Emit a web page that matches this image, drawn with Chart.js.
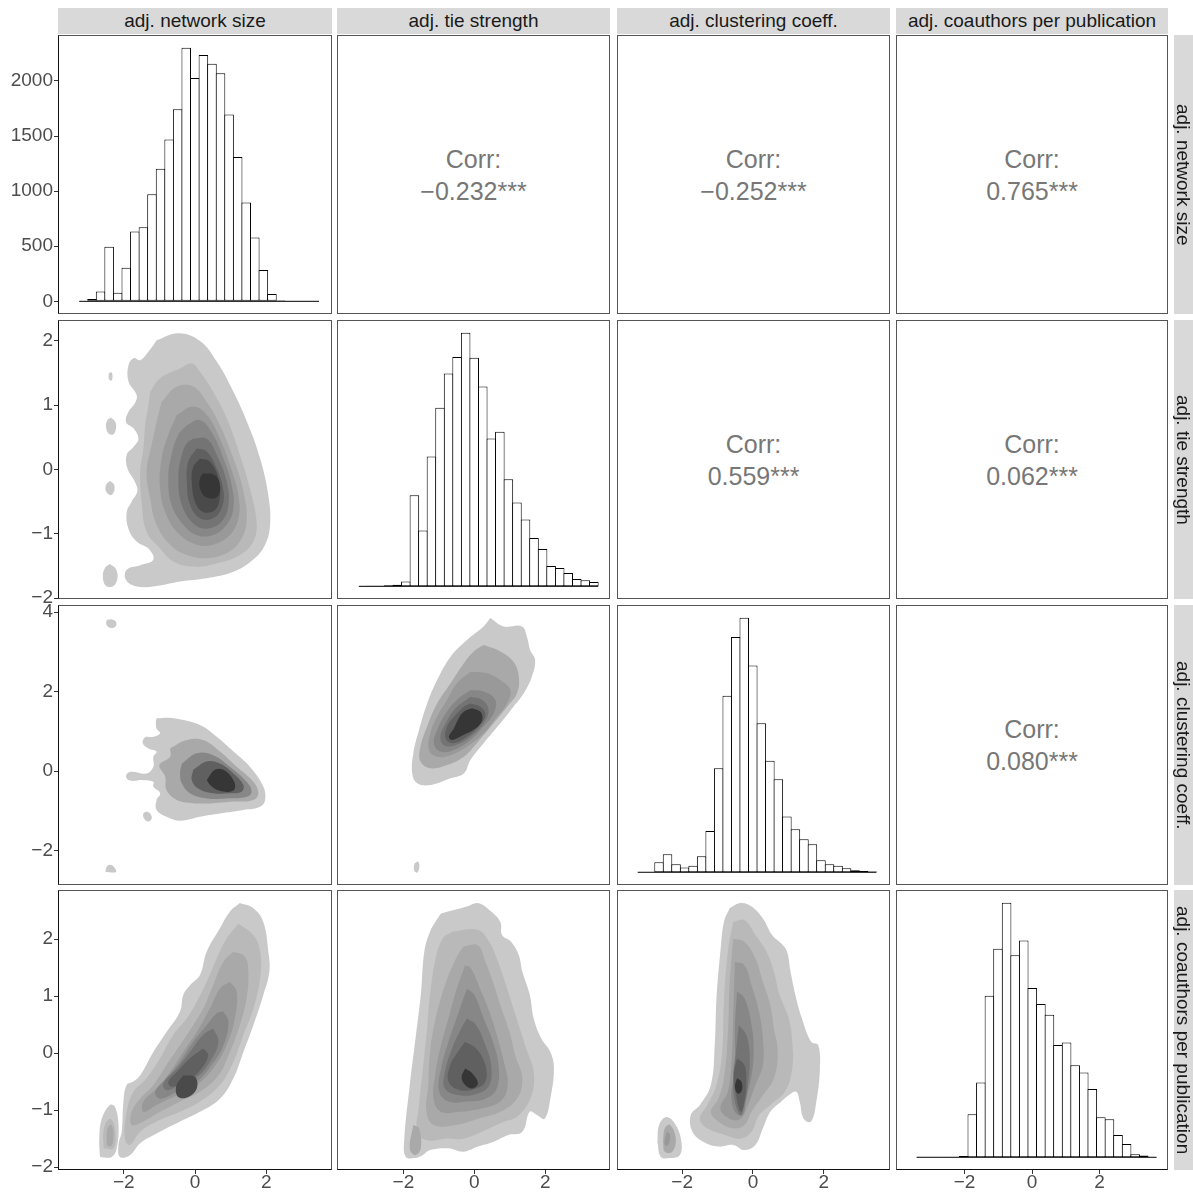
<!DOCTYPE html>
<html><head><meta charset="utf-8">
<script src="https://cdn.jsdelivr.net/npm/chart.js@4.4.1/dist/chart.umd.min.js"></script>
<style>
html,body{margin:0;padding:0;background:#fff;overflow:hidden;width:1193px;height:1192px;}
#wrap{position:relative;width:1193px;height:1192px;font-family:"Liberation Sans",Arial,Helvetica,sans-serif;overflow:hidden;}
canvas{position:absolute;}
.frame{position:absolute;box-sizing:border-box;border:1px solid #555;pointer-events:none;}
.strip{position:absolute;background:#d9d9d9;color:#1a1a1a;font-size:19px;display:flex;align-items:center;justify-content:center;white-space:nowrap;}
.rstrip{position:absolute;background:#d9d9d9;}
.rtext{position:absolute;top:0;left:0;width:19px;height:100%;writing-mode:vertical-rl;text-align:center;line-height:19px;font-size:19px;color:#1a1a1a;white-space:nowrap;}
.corr{position:absolute;display:flex;flex-direction:column;align-items:center;justify-content:center;color:#777;font-size:25px;line-height:32px;}
</style></head><body><div id="wrap"></div>
<script>
// ---------- labels ----------
const variableNames = ["adj. network size","adj. tie strength","adj. clustering coeff.","adj. coauthors per publication"];
const corrRow1 = ["\u22120.232***","\u22120.252***","0.765***"];
const corrRow2 = ["0.559***","0.062***"];
const corrRow3 = ["0.080***"];

// ---------- tick labels ----------
const xTicks = [-2, 0, 2];
const countTicks = [0, 500, 1000, 1500, 2000];
const yTicksTie = [-2, -1, 0, 1, 2];
const yTicksClust = [-2, 0, 2, 4];
const yTicksCoauth = [-2, -1, 0, 1, 2];

// ---------- histogram bins (centres) and counts ----------
const binCenters = [-3.135,-2.894,-2.653,-2.413,-2.172,-1.931,-1.690,-1.450,-1.209,-0.968,-0.727,-0.487,-0.246,-0.005,0.236,0.477,0.717,0.958,1.199,1.440,1.680,1.921,2.162,2.403,2.643,2.884,3.125,3.366];
const binCentersCoauth = [-3.293,-3.039,-2.785,-2.531,-2.277,-2.023,-1.769,-1.515,-1.261,-1.007,-0.753,-0.499,-0.245,0.009,0.263,0.517,0.771,1.025,1.279,1.533,1.787,2.041,2.295,2.549,2.803,3.057,3.311,3.565];
const binSpan = [-3.255, 3.486];
const binSpanCoauth = [-3.420, 3.692];
const countsSize = [5,20,90,495,78,305,633,673,971,1204,1469,1744,2302,2027,2235,2157,2069,1695,1309,896,579,284,66,9,0,0,0,0];
const countsTie = [3,7,7,10,17,50,922,565,1315,1806,2153,2321,2567,2314,2022,1497,1564,1083,848,676,488,377,205,185,135,74,61,44];
const countsClust = [0,0,143,258,115,67,95,229,592,1489,2524,3364,3641,2959,2133,1594,1331,797,616,472,401,172,115,95,57,29,19,10];
const countsCoauth = [0,0,0,0,4,14,453,786,1698,2190,2674,2123,2277,1779,1611,1498,1179,1207,968,891,716,421,400,235,140,32,18,4];

// ---------- 2-D density contour bands: [level, polygon in data units] ----------
const densSizeTie = [
 [0, [[-1.08,2.01],[-0.47,2.12],[0.14,2.00],[0.61,1.68],[1.08,1.21],[1.50,0.69],[1.83,0.17],[2.06,-0.40],[2.11,-0.86],[1.97,-1.17],[1.64,-1.40],[1.08,-1.59],[0.33,-1.69],[-0.42,-1.74],[-1.08,-1.81],[-1.64,-1.82],[-1.94,-1.72],[-1.92,-1.56],[-1.54,-1.49],[-1.17,-1.40],[-1.31,-1.23],[-1.64,-1.12],[-1.87,-0.92],[-1.92,-0.66],[-1.78,-0.50],[-1.62,-0.34],[-1.69,-0.19],[-1.90,0.02],[-1.92,0.23],[-1.73,0.35],[-1.59,0.48],[-1.73,0.64],[-1.94,0.74],[-1.87,0.90],[-1.69,1.03],[-1.64,1.16],[-1.87,1.37],[-1.87,1.62],[-1.73,1.73],[-1.54,1.70],[-1.31,1.83]]],
 [0, [[-2.42,1.50],[-2.34,1.51],[-2.32,1.42],[-2.36,1.38],[-2.42,1.41]]],
 [0, [[-2.36,0.81],[-2.24,0.74],[-2.22,0.64],[-2.29,0.55],[-2.43,0.56],[-2.50,0.67],[-2.46,0.77]]],
 [0, [[-2.39,-0.18],[-2.28,-0.23],[-2.27,-0.33],[-2.37,-0.40],[-2.50,-0.34],[-2.50,-0.24]]],
 [0, [[-2.39,-1.47],[-2.22,-1.55],[-2.18,-1.69],[-2.29,-1.81],[-2.50,-1.81],[-2.59,-1.67],[-2.53,-1.53]]],
 [1, [[-1.26,1.21],[-0.98,1.42],[-0.42,1.57],[-0.09,1.65],[0.14,1.52],[0.51,1.21],[0.89,0.80],[1.26,0.23],[1.54,-0.29],[1.73,-0.81],[1.64,-1.12],[1.26,-1.33],[0.61,-1.46],[-0.05,-1.51],[-0.61,-1.43],[-0.98,-1.23],[-1.36,-0.97],[-1.50,-0.50],[-1.54,-0.03],[-1.45,0.33],[-1.40,0.69],[-1.31,1.00]]],
 [2, [[-0.94,1.05],[-0.51,1.29],[-0.05,1.29],[0.33,1.05],[0.70,0.69],[1.08,0.17],[1.36,-0.34],[1.45,-0.81],[1.26,-1.12],[0.89,-1.30],[0.33,-1.38],[-0.23,-1.33],[-0.70,-1.17],[-1.08,-0.86],[-1.26,-0.45],[-1.36,-0.03],[-1.22,0.38],[-1.08,0.74]]],
 [3, [[-0.51,0.85],[-0.05,0.98],[0.33,0.85],[0.70,0.48],[0.98,0.07],[1.22,-0.40],[1.22,-0.76],[0.98,-1.02],[0.51,-1.17],[0.05,-1.17],[-0.42,-1.02],[-0.80,-0.71],[-0.98,-0.29],[-0.94,0.17],[-0.75,0.54]]],
 [4, [[-0.23,0.69],[0.14,0.77],[0.51,0.54],[0.80,0.17],[1.03,-0.24],[1.08,-0.60],[0.89,-0.86],[0.51,-1.02],[0.05,-1.02],[-0.33,-0.86],[-0.66,-0.55],[-0.75,-0.14],[-0.66,0.23],[-0.47,0.54]]],
 [5, [[-0.05,0.48],[0.33,0.48],[0.61,0.23],[0.89,-0.19],[0.94,-0.55],[0.75,-0.81],[0.33,-0.92],[-0.05,-0.84],[-0.37,-0.55],[-0.47,-0.14],[-0.37,0.23],[-0.23,0.41]]],
 [6, [[0.05,0.33],[0.33,0.28],[0.61,0.02],[0.80,-0.34],[0.75,-0.60],[0.51,-0.76],[0.14,-0.76],[-0.14,-0.55],[-0.23,-0.19],[-0.19,0.12]]],
 [7, [[0.14,0.17],[0.42,0.12],[0.66,-0.14],[0.70,-0.42],[0.56,-0.63],[0.23,-0.66],[0.00,-0.50],[-0.09,-0.19],[-0.05,0.04]]],
 [8, [[0.23,-0.06],[0.56,-0.09],[0.70,-0.24],[0.66,-0.40],[0.51,-0.45],[0.28,-0.42],[0.14,-0.29],[0.14,-0.14]]]
];
const densSizeClust = [
 [0, [[-1.08,1.33],[-0.61,1.33],[0.14,1.16],[0.61,0.86],[1.08,0.49],[1.54,0.11],[1.92,-0.39],[1.97,-0.73],[1.83,-0.90],[1.36,-0.98],[0.70,-1.07],[0.14,-1.15],[-0.42,-1.25],[-0.80,-1.15],[-1.08,-0.98],[-1.08,-0.73],[-0.98,-0.56],[-1.17,-0.39],[-1.17,-0.27],[-1.45,-0.23],[-1.83,-0.24],[-1.94,-0.13],[-1.81,-0.02],[-1.36,-0.06],[-1.17,0.11],[-1.17,0.36],[-1.08,0.49],[-1.31,0.57],[-1.47,0.70],[-1.40,0.85],[-1.17,0.86],[-0.98,0.95],[-1.08,1.07],[-1.10,1.24]]],
 [0, [[-2.36,3.82],[-2.23,3.77],[-2.22,3.65],[-2.36,3.60],[-2.48,3.67],[-2.48,3.79]]],
 [0, [[-1.36,-1.02],[-1.25,-1.08],[-1.22,-1.20],[-1.32,-1.27],[-1.44,-1.18],[-1.45,-1.07]]],
 [0, [[-2.52,-2.54],[-2.48,-2.41],[-2.39,-2.36],[-2.28,-2.41],[-2.22,-2.54]]],
 [2, [[-0.70,0.57],[-0.23,0.78],[0.23,0.78],[0.70,0.49],[1.17,0.11],[1.64,-0.27],[1.78,-0.56],[1.64,-0.73],[1.08,-0.77],[0.51,-0.81],[-0.05,-0.81],[-0.51,-0.73],[-0.80,-0.48],[-0.84,-0.14],[-1.00,0.15],[-0.70,0.36]]],
 [4, [[-0.37,0.19],[0.05,0.45],[0.51,0.40],[0.98,0.11],[1.45,-0.27],[1.59,-0.52],[1.45,-0.65],[0.89,-0.69],[0.33,-0.69],[-0.14,-0.56],[-0.37,-0.31],[-0.42,-0.06]]],
 [6, [[-0.05,0.03],[0.33,0.24],[0.70,0.19],[1.08,-0.06],[1.36,-0.35],[1.31,-0.52],[0.98,-0.56],[0.51,-0.56],[0.09,-0.44],[-0.09,-0.23]]],
 [8, [[0.33,-0.23],[0.56,0.03],[0.80,0.03],[1.08,-0.23],[1.12,-0.44],[0.98,-0.52],[0.70,-0.50],[0.47,-0.39]]]
];
const densTieClust = [
 [0, [[0.45,3.85],[0.82,3.64],[1.34,3.64],[1.48,3.38],[1.57,3.05],[1.71,2.80],[1.62,2.38],[1.39,1.96],[1.10,1.62],[0.73,1.20],[0.26,0.70],[-0.11,0.28],[-0.30,-0.06],[-0.67,-0.18],[-1.24,-0.35],[-1.61,-0.31],[-1.75,-0.06],[-1.72,0.45],[-1.56,1.03],[-1.33,1.70],[-1.05,2.29],[-0.67,2.88],[-0.21,3.30],[0.26,3.64]]],
 [0, [[-1.69,-2.33],[-1.59,-2.28],[-1.55,-2.41],[-1.61,-2.56],[-1.70,-2.49]]],
 [2, [[0.26,3.17],[0.73,3.01],[1.10,2.75],[1.25,2.38],[1.20,1.96],[0.92,1.62],[0.54,1.20],[0.07,0.70],[-0.30,0.36],[-0.77,0.15],[-1.24,0.07],[-1.52,0.24],[-1.52,0.61],[-1.33,1.12],[-1.05,1.70],[-0.67,2.21],[-0.30,2.71],[-0.02,3.01]]],
 [3, [[-0.11,2.50],[0.36,2.46],[0.73,2.29],[1.01,2.04],[0.92,1.70],[0.64,1.37],[0.26,0.95],[-0.21,0.61],[-0.67,0.40],[-1.05,0.36],[-1.28,0.53],[-1.24,0.95],[-1.05,1.37],[-0.77,1.79],[-0.49,2.21]]],
 [4, [[-0.11,2.04],[0.26,2.00],[0.59,1.79],[0.54,1.45],[0.26,1.12],[-0.11,0.78],[-0.58,0.53],[-0.96,0.49],[-1.14,0.70],[-1.05,1.03],[-0.81,1.45],[-0.49,1.79]]],
 [5, [[-0.11,1.87],[0.22,1.79],[0.40,1.54],[0.26,1.20],[-0.11,0.86],[-0.53,0.65],[-0.86,0.65],[-0.96,0.86],[-0.81,1.20],[-0.53,1.58]]],
 [6, [[-0.11,1.70],[0.17,1.62],[0.31,1.41],[0.12,1.12],[-0.21,0.86],[-0.58,0.70],[-0.81,0.82],[-0.77,1.12],[-0.53,1.41],[-0.30,1.62]]],
 [8, [[-0.07,1.58],[0.17,1.49],[0.22,1.28],[0.03,1.07],[-0.30,0.91],[-0.63,0.78],[-0.72,0.86],[-0.58,1.07],[-0.44,1.33],[-0.30,1.49]]]
];
const densSizeCoauth = [
 [0, [[1.26,2.63],[1.64,2.54],[1.92,2.30],[2.06,1.78],[2.09,1.43],[1.92,1.02],[1.64,0.49],[1.36,0.02],[1.08,-0.44],[0.70,-0.80],[0.14,-1.03],[-0.42,-1.20],[-1.08,-1.41],[-1.54,-1.58],[-1.83,-1.79],[-2.11,-1.82],[-2.15,-1.61],[-2.06,-1.38],[-2.01,-0.85],[-1.92,-0.56],[-1.73,-0.50],[-1.54,-0.39],[-1.17,0.02],[-0.80,0.37],[-0.42,0.73],[-0.33,1.02],[-0.14,1.19],[0.14,1.37],[0.33,1.78],[0.70,2.19],[0.98,2.48]]],
 [0, [[-2.67,-1.82],[-2.69,-1.50],[-2.62,-1.15],[-2.39,-0.91],[-2.25,-0.94],[-2.15,-1.26],[-2.20,-1.67],[-2.34,-1.82]]],
 [1, [[-2.57,-1.67],[-2.56,-1.32],[-2.39,-1.15],[-2.25,-1.32],[-2.29,-1.67]]],
 [2, [[-2.48,-1.61],[-2.46,-1.32],[-2.34,-1.26],[-2.29,-1.50],[-2.37,-1.64]]],
 [1, [[1.22,2.27],[1.64,2.07],[1.83,1.78],[1.83,1.31],[1.64,0.78],[1.36,0.32],[1.08,-0.15],[0.70,-0.56],[0.14,-0.85],[-0.42,-1.03],[-1.08,-1.20],[-1.54,-1.38],[-1.83,-1.61],[-1.97,-1.50],[-1.92,-1.03],[-1.73,-0.68],[-1.36,-0.44],[-0.98,-0.09],[-0.61,0.32],[-0.23,0.61],[0.05,0.90],[0.33,1.25],[0.61,1.66],[0.89,2.01]]],
 [2, [[1.08,1.78],[1.40,1.69],[1.50,1.43],[1.45,0.96],[1.26,0.49],[0.98,0.02],[0.66,-0.39],[0.14,-0.68],[-0.42,-0.85],[-0.98,-1.03],[-1.45,-1.20],[-1.78,-1.26],[-1.78,-1.03],[-1.54,-0.80],[-1.17,-0.56],[-0.80,-0.21],[-0.42,0.14],[-0.05,0.49],[0.23,0.78],[0.51,1.19],[0.80,1.60]]],
 [3, [[0.98,1.25],[1.17,1.08],[1.12,0.61],[0.89,0.14],[0.51,-0.27],[0.05,-0.56],[-0.51,-0.74],[-1.08,-0.91],[-1.45,-1.03],[-1.45,-0.85],[-1.08,-0.62],[-0.70,-0.33],[-0.33,0.02],[0.05,0.37],[0.42,0.78],[0.70,1.13]]],
 [4, [[0.80,0.73],[0.94,0.55],[0.80,0.14],[0.47,-0.21],[0.05,-0.50],[-0.51,-0.68],[-0.98,-0.80],[-1.12,-0.68],[-0.80,-0.44],[-0.42,-0.15],[-0.05,0.20],[0.33,0.49],[0.61,0.70]]],
 [5, [[0.51,0.43],[0.66,0.20],[0.42,-0.15],[0.05,-0.42],[-0.42,-0.56],[-0.80,-0.65],[-0.89,-0.53],[-0.51,-0.27],[-0.14,0.02],[0.23,0.32]]],
 [6, [[0.23,0.08],[0.37,-0.04],[0.14,-0.30],[-0.23,-0.50],[-0.66,-0.59],[-0.75,-0.50],[-0.51,-0.33],[-0.14,-0.09]]],
 [7, [[-0.33,-0.39],[0.00,-0.42],[0.05,-0.62],[-0.19,-0.77],[-0.47,-0.77],[-0.53,-0.59]]]
];
const densTieCoauth = [
 [0, [[-0.94,2.45],[-0.21,2.57],[0.10,2.63],[0.42,2.51],[0.73,2.30],[0.78,2.07],[1.04,1.95],[1.25,1.72],[1.35,1.43],[1.56,1.02],[1.67,0.61],[1.88,0.26],[2.14,0.02],[2.24,-0.27],[2.14,-0.80],[1.98,-1.15],[1.77,-1.09],[1.56,-1.03],[1.35,-1.38],[0.94,-1.44],[0.52,-1.56],[0.10,-1.64],[-0.31,-1.73],[-0.73,-1.67],[-1.25,-1.70],[-1.46,-1.79],[-1.67,-1.84],[-1.93,-1.82],[-1.98,-1.56],[-1.82,-0.56],[-1.67,0.20],[-1.51,1.02],[-1.41,1.78],[-1.25,2.13],[-1.04,2.36]]],
 [1, [[-0.63,2.13],[0.10,2.16],[0.42,1.95],[0.63,1.66],[0.83,1.31],[1.04,0.90],[1.25,0.49],[1.46,0.08],[1.67,-0.33],[1.61,-0.74],[1.25,-1.09],[0.73,-1.23],[0.21,-1.38],[-0.31,-1.50],[-0.83,-1.50],[-1.35,-1.53],[-1.61,-1.38],[-1.56,-0.91],[-1.46,-0.33],[-1.35,0.32],[-1.25,1.02],[-1.09,1.66],[-0.89,2.01]]],
 [2, [[-1.72,-1.26],[-1.56,-1.32],[-1.51,-1.67],[-1.67,-1.79],[-1.82,-1.67]]],
 [2, [[-0.31,1.87],[0.10,1.89],[0.31,1.60],[0.52,1.25],[0.73,0.84],[0.99,0.37],[1.15,-0.04],[1.35,-0.44],[1.20,-0.80],[0.73,-1.03],[0.10,-1.15],[-0.52,-1.26],[-1.15,-1.26],[-1.35,-1.03],[-1.30,-0.56],[-1.25,0.02],[-1.09,0.61],[-0.83,1.19],[-0.52,1.66]]],
 [3, [[-0.26,1.54],[-0.10,1.49],[0.16,1.13],[0.42,0.73],[0.63,0.32],[0.83,-0.15],[0.94,-0.56],[0.73,-0.85],[0.21,-0.97],[-0.42,-1.03],[-0.94,-1.03],[-1.15,-0.80],[-1.09,-0.33],[-0.94,0.14],[-0.73,0.61],[-0.52,1.08]]],
 [4, [[-0.21,1.13],[0.00,1.02],[0.26,0.61],[0.52,0.20],[0.68,-0.21],[0.63,-0.62],[0.31,-0.80],[-0.21,-0.85],[-0.73,-0.85],[-0.99,-0.68],[-0.94,-0.27],[-0.73,0.20],[-0.47,0.67]]],
 [5, [[-0.21,0.61],[0.05,0.49],[0.31,0.14],[0.47,-0.21],[0.42,-0.56],[0.10,-0.71],[-0.42,-0.74],[-0.83,-0.62],[-0.83,-0.33],[-0.63,0.08],[-0.42,0.37]]],
 [6, [[-0.26,0.20],[0.05,0.08],[0.31,-0.21],[0.31,-0.50],[0.05,-0.62],[-0.42,-0.65],[-0.73,-0.50],[-0.68,-0.21],[-0.47,0.02]]],
 [8, [[-0.26,-0.27],[-0.05,-0.36],[0.10,-0.53],[-0.05,-0.62],[-0.26,-0.56],[-0.36,-0.42]]]
];
const densClustCoauth = [
 [0, [[-0.66,2.54],[-0.35,2.63],[-0.04,2.57],[0.28,2.36],[0.54,2.07],[0.80,1.92],[0.96,1.78],[1.06,1.43],[1.22,0.96],[1.38,0.61],[1.64,0.20],[1.84,0.14],[1.89,-0.27],[1.79,-0.85],[1.64,-1.20],[1.43,-1.15],[1.32,-0.85],[1.22,-0.68],[1.01,-0.74],[0.80,-0.85],[0.49,-1.03],[0.28,-1.32],[0.07,-1.61],[-0.24,-1.70],[-0.56,-1.61],[-0.98,-1.64],[-1.39,-1.56],[-1.71,-1.38],[-1.76,-1.09],[-1.50,-0.91],[-1.19,-0.56],[-1.08,0.14],[-1.03,0.96],[-0.92,1.78],[-0.82,2.30]]],
 [0, [[-2.70,-1.56],[-2.65,-1.26],[-2.44,-1.12],[-2.18,-1.26],[-2.02,-1.56],[-2.07,-1.79],[-2.34,-1.84],[-2.60,-1.82]]],
 [2, [[-2.54,-1.56],[-2.49,-1.32],[-2.34,-1.26],[-2.18,-1.50],[-2.28,-1.73],[-2.49,-1.73]]],
 [3, [[-2.49,-1.50],[-2.42,-1.38],[-2.34,-1.44],[-2.39,-1.61],[-2.49,-1.61]]],
 [1, [[-0.56,2.30],[-0.24,2.33],[0.07,2.07],[0.38,1.78],[0.59,1.43],[0.75,1.02],[1.01,0.61],[1.11,0.20],[1.11,-0.27],[0.90,-0.68],[0.49,-0.91],[0.17,-1.09],[-0.04,-1.38],[-0.35,-1.50],[-0.77,-1.44],[-1.29,-1.32],[-1.50,-1.15],[-1.29,-0.91],[-1.03,-0.56],[-0.87,0.02],[-0.82,0.90],[-0.71,1.78]]],
 [2, [[-0.56,2.01],[-0.24,1.95],[0.07,1.66],[0.28,1.25],[0.49,0.84],[0.59,0.43],[0.70,0.02],[0.59,-0.44],[0.28,-0.74],[-0.04,-1.03],[-0.24,-1.26],[-0.56,-1.32],[-0.98,-1.20],[-1.19,-1.03],[-0.98,-0.80],[-0.82,-0.44],[-0.71,0.32],[-0.66,1.19]]],
 [3, [[-0.51,1.60],[-0.24,1.54],[-0.04,1.19],[0.17,0.73],[0.28,0.26],[0.28,-0.21],[0.07,-0.56],[-0.14,-0.91],[-0.35,-1.15],[-0.66,-1.15],[-0.92,-0.97],[-0.71,-0.68],[-0.61,-0.21],[-0.56,0.61]]],
 [4, [[-0.45,1.08],[-0.24,0.96],[-0.04,0.49],[0.02,0.02],[-0.04,-0.39],[-0.19,-0.80],[-0.30,-1.09],[-0.51,-1.03],[-0.61,-0.74],[-0.51,-0.27],[-0.51,0.43]]],
 [5, [[-0.40,0.49],[-0.19,0.32],[-0.09,-0.09],[-0.14,-0.56],[-0.24,-0.91],[-0.35,-1.09],[-0.51,-0.85],[-0.56,-0.44],[-0.48,0.02]]],
 [6, [[-0.45,-0.09],[-0.24,-0.21],[-0.19,-0.56],[-0.26,-0.91],[-0.35,-1.03],[-0.48,-0.74],[-0.54,-0.39]]],
 [8, [[-0.45,-0.44],[-0.33,-0.50],[-0.31,-0.65],[-0.43,-0.71],[-0.51,-0.59]]]
];
const grays = ['#C9C9C9','#B9B9B9','#A9A9A9','#999999','#878787','#747474','#606060','#4A4A4A','#363636'];

// ---------- layout ----------
const W = 1193, H = 1192;
const colLeft = [58, 337, 617, 896], colWidth = [274, 273, 273, 272];
const rowTop = [35, 320, 605, 890], rowHeight = [279, 279, 280, 280];
const xLimits = [[-3.85,3.85],[-3.87,3.82],[-3.84,3.87],[-4.03,4.03]];
const yLimits = [null, [-2.014,2.325], [-2.87,4.18], [-2.05,2.86]];
const yTicksByRow = [countTicks, yTicksTie, yTicksClust, yTicksCoauth];
const FONT = '"Liberation Sans", Arial, Helvetica, sans-serif';
const EXT = 12; // extra canvas room above/below for edge tick labels (left column)
const wrap = document.getElementById('wrap');

function fmt(v){ return v < 0 ? '\u2212' + Math.abs(v) : String(v); }

function scaleCfg(axis, show, lim, ticks, fitSize){
  return {
    type: 'linear', min: lim[0], max: lim[1], display: show, offset: false,
    grid: {display: show, offset: false, drawOnChartArea: false, drawTicks: true, tickLength: 4, color: '#333', lineWidth: 1},
    border: {display: false},
    ticks: {font: {family: FONT, size: 19}, color: '#4d4d4d', padding: axis === 'x' ? -3 : 1,
            autoSkip: false, maxRotation: 0, minRotation: 0, callback: (v) => fmt(v)},
    afterBuildTicks: s => { if (ticks) s.ticks = ticks.map(v => ({value: v})); },
    afterFit: s => {
      const size = show ? fitSize : 0;
      if (axis === 'y') s.width = size; else s.height = size;
      s.paddingTop = 0; s.paddingBottom = 0; s.paddingLeft = 0; s.paddingRight = 0;
    }
  };
}

function makeCanvas(r, c){
  const x = c === 0 ? 0 : colLeft[c];
  const w = colLeft[c] + colWidth[c] - x;
  const padTop = c === 0 ? EXT : 0;
  const padBottom = (c === 0 && r < 3) ? EXT : 0;
  const y = rowTop[r] - padTop;
  const h = (r === 3 ? H - rowTop[r] : rowHeight[r]) + padTop + padBottom;
  const cv = document.createElement('canvas');
  cv.width = w; cv.height = h;
  cv.style.left = x + 'px'; cv.style.top = y + 'px';
  cv.style.width = w + 'px'; cv.style.height = h + 'px';
  wrap.appendChild(cv);
  return {cv, yFit: colLeft[0], xFit: r === 3 ? H - rowTop[r] - rowHeight[r] : 0,
          pad: {top: padTop, bottom: padBottom, left: 0, right: 0}};
}

function opts(pad, scales){
  return {
    responsive: false, animation: false, devicePixelRatio: 1, events: [],
    layout: {padding: pad, autoPadding: false},
    plugins: {legend: {display: false}, tooltip: {enabled: false}, title: {display: false}},
    scales
  };
}

function histChart(r, c, centers, counts, span){
  const {cv, yFit, xFit, pad} = makeCanvas(r, c);
  const mx = Math.max(...counts);
  new Chart(cv, {
    type: 'bar',
    data: {datasets: [
      {type: 'line', data: [{x: span[0], y: 0}, {x: span[1], y: 0}], borderColor: '#000', borderWidth: 1, pointRadius: 0, order: 0},
      {type: 'bar', data: centers.map((x, i) => ({x, y: counts[i]})), backgroundColor: '#fff', borderColor: '#000',
       borderWidth: 1, borderSkipped: false, barPercentage: 1.12, categoryPercentage: 1, order: 1}
    ]},
    options: opts(pad, {
      x: scaleCfg('x', r === 3, xLimits[c], xTicks, xFit),
      y: scaleCfg('y', c === 0, [-0.05 * mx, 1.05 * mx], r === 0 ? countTicks : null, yFit)
    })
  });
}

function densChart(r, c, bands){
  const {cv, yFit, xFit, pad} = makeCanvas(r, c);
  const datasets = bands.map(([lvl, pts]) => {
    const data = pts.map(p => ({x: p[0], y: p[1]}));
    data.push({x: pts[0][0], y: pts[0][1]});
    return {data, fill: 'shape', backgroundColor: grays[lvl], borderColor: 'rgba(0,0,0,0)', borderWidth: 0,
            pointRadius: 0, tension: 0.4, order: 100 - lvl};
  });
  new Chart(cv, {
    type: 'line',
    data: {datasets},
    options: opts(pad, {
      x: scaleCfg('x', r === 3, xLimits[c], xTicks, xFit),
      y: scaleCfg('y', c === 0, yLimits[r], yTicksByRow[r], yFit)
    })
  });
}

function corrPanel(r, c, txt){
  const d = document.createElement('div');
  d.className = 'corr';
  d.style.left = colLeft[c] + 'px'; d.style.top = rowTop[r] + 'px';
  d.style.width = colWidth[c] + 'px'; d.style.height = rowHeight[r] + 'px';
  d.innerHTML = '<div>Corr:</div><div>' + txt + '</div>';
  wrap.appendChild(d);
}

// diagonal
histChart(0, 0, binCenters, countsSize, binSpan);
histChart(1, 1, binCenters, countsTie, binSpan);
histChart(2, 2, binCenters, countsClust, binSpan);
histChart(3, 3, binCentersCoauth, countsCoauth, binSpanCoauth);
// lower
densChart(1, 0, densSizeTie);
densChart(2, 0, densSizeClust);
densChart(2, 1, densTieClust);
densChart(3, 0, densSizeCoauth);
densChart(3, 1, densTieCoauth);
densChart(3, 2, densClustCoauth);
// upper
corrPanel(0, 1, corrRow1[0]); corrPanel(0, 2, corrRow1[1]); corrPanel(0, 3, corrRow1[2]);
corrPanel(1, 2, corrRow2[0]); corrPanel(1, 3, corrRow2[1]);
corrPanel(2, 3, corrRow3[0]);

// frames
for (let r = 0; r < 4; r++) for (let c = 0; c < 4; c++) {
  const f = document.createElement('div');
  f.className = 'frame';
  f.style.left = colLeft[c] + 'px'; f.style.top = rowTop[r] + 'px';
  f.style.width = colWidth[c] + 'px'; f.style.height = rowHeight[r] + 'px';
  if (c === 0) f.style.borderLeftColor = '#111';
  if (r === 3) f.style.borderBottomColor = '#111';
  wrap.appendChild(f);
}
// strips
variableNames.forEach((name, i) => {
  const s = document.createElement('div');
  s.className = 'strip';
  s.style.left = colLeft[i] + 'px'; s.style.top = '8px';
  s.style.width = colWidth[i] + 'px'; s.style.height = '26px';
  s.textContent = name;
  wrap.appendChild(s);
  const rs = document.createElement('div');
  rs.className = 'rstrip';
  rs.style.left = '1174px'; rs.style.top = rowTop[i] + 'px';
  rs.style.width = '19px'; rs.style.height = rowHeight[i] + 'px';
  const t = document.createElement('div');
  t.className = 'rtext';
  t.textContent = name;
  rs.appendChild(t);
  wrap.appendChild(rs);
});
</script></body></html>
